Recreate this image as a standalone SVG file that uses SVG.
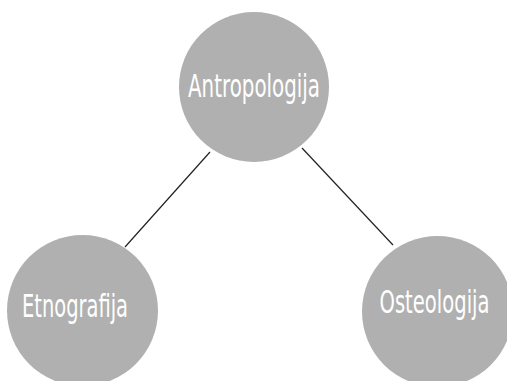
<svg xmlns="http://www.w3.org/2000/svg" width="507" height="381" viewBox="0 0 507 381">
<style>
.node{fill:#b0b0b0}
.lbl{fill:#ffffff;font-family:"DejaVu Sans",sans-serif;font-size:32px}
.edge{stroke:#222;stroke-width:1.2;fill:none}
</style>
<rect width="507" height="381" fill="#ffffff"/>
<g id="connectors">
<line class="edge" x1="210" y1="152" x2="125" y2="247"/>
<line class="edge" x1="302" y1="148" x2="393" y2="245"/>
</g>
<g id="antropologija">
<circle class="node" cx="254" cy="87" r="75"/>
<text class="lbl" x="188" y="97" textLength="132" lengthAdjust="spacingAndGlyphs">Antropologija</text>
</g>
<g id="etnografija">
<circle class="node" cx="82.5" cy="310.5" r="75.5"/>
<text class="lbl" x="22" y="317" textLength="106" lengthAdjust="spacingAndGlyphs">Etnografija</text>
</g>
<g id="osteologija">
<circle class="node" cx="437.5" cy="311.5" r="75.5"/>
<text class="lbl" x="379.5" y="312.5" textLength="110" lengthAdjust="spacingAndGlyphs">Osteologija</text>
</g>
</svg>
